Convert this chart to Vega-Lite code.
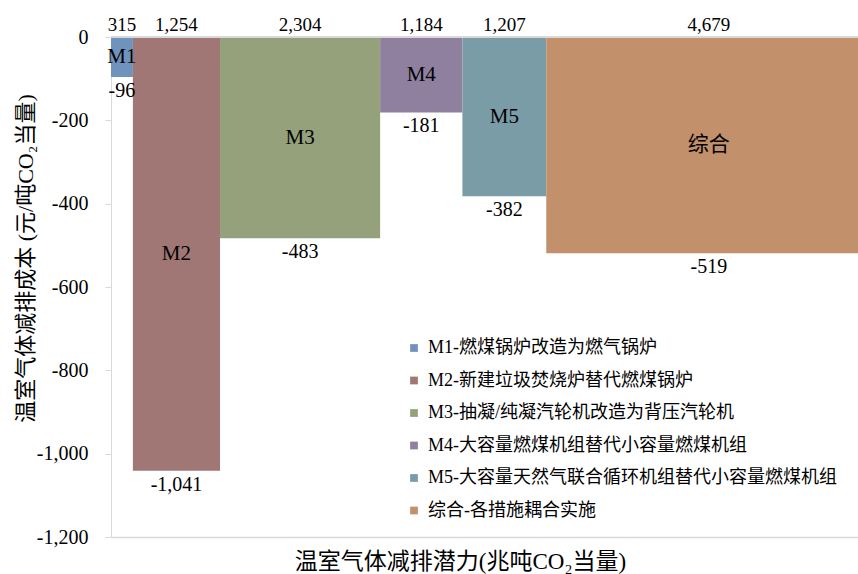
{
  "$schema": "https://vega.github.io/schema/vega-lite/v6.json",
  "width": 747,
  "height": 500,
  "autosize": {"type": "none"},
  "padding": {"left": 111, "top": 37, "right": 0, "bottom": 37},
  "background": "white",
  "config": {
    "view": {"stroke": null},
    "font": "Liberation Serif, Noto Sans CJK SC",
    "text": {"font": "Liberation Serif, Noto Sans CJK SC"},
    "locale": {"number": {"decimal": ".", "thousands": ",", "grouping": [3], "currency": ["", ""], "minus": "-"}}
  },
  "data": {
    "values": [
      {"order": 1, "short": "M1", "legend": "M1-燃煤锅炉改造为燃气锅炉", "potential": 315, "cost": -96},
      {"order": 2, "short": "M2", "legend": "M2-新建垃圾焚烧炉替代燃煤锅炉", "potential": 1254, "cost": -1041},
      {"order": 3, "short": "M3", "legend": "M3-抽凝/纯凝汽轮机改造为背压汽轮机", "potential": 2304, "cost": -483},
      {"order": 4, "short": "M4", "legend": "M4-大容量燃煤机组替代小容量燃煤机组", "potential": 1184, "cost": -181},
      {"order": 5, "short": "M5", "legend": "M5-大容量天然气联合循环机组替代小容量燃煤机组", "potential": 1207, "cost": -382},
      {"order": 6, "short": "综合", "legend": "综合-各措施耦合实施", "potential": 4679, "cost": -519}
    ]
  },
  "transform": [
    {"window": [{"op": "sum", "field": "potential", "as": "x1"}], "sort": [{"field": "order"}], "frame": [null, 0]},
    {"calculate": "datum.x1 - datum.potential", "as": "x0"},
    {"calculate": "(datum.x0 + datum.x1) / 2", "as": "xm"},
    {"calculate": "datum.cost / 2", "as": "ym"},
    {"calculate": "0", "as": "zero"},
    {"calculate": "replace(format(datum.potential, ',d'), '\u2212', '-')", "as": "ptxt"},
    {"calculate": "replace(format(datum.cost, ',d'), '\u2212', '-')", "as": "ctxt"}
  ],
  "layer": [
    {
      "mark": {"type": "rect", "clip": true},
      "encoding": {
        "x": {"field": "x0", "type": "quantitative",
              "scale": {"domain": [0, 10750], "nice": false, "zero": true},
              "axis": {"title": "温室气体减排潜力(兆吨CO₂当量)", "labels": false, "ticks": false, "grid": false,
                       "domainColor": "#d9d9d9", "domainWidth": 1.5,
                       "titleFont": "Liberation Serif, Noto Sans CJK SC", "titleFontSize": 23, "titleFontWeight": "normal",
                       "titleColor": "#000", "titleX": 349, "titleY": 24, "titleBaseline": "middle", "titleAlign": "center"}},
        "x2": {"field": "x1"},
        "y": {"field": "cost", "type": "quantitative",
              "scale": {"domain": [-1200, 0], "nice": false},
              "axis": {"title": "温室气体减排成本 (元/吨CO₂当量)", "values": [0, -200, -400, -600, -800, -1000, -1200],
                       "labelExpr": "replace(format(datum.value, ',d'), '\u2212', '-')",
                       "grid": false, "domainColor": "#d9d9d9", "tickColor": "#d9d9d9", "tickSize": 6,
                       "labelFont": "Liberation Serif", "labelFontSize": 20, "labelColor": "#000", "labelPadding": 17,
                       "titleFont": "Liberation Serif, Noto Sans CJK SC", "titleFontSize": 22, "titleFontWeight": "normal",
                       "titleColor": "#000", "titleX": -86, "titleY": 221, "titleBaseline": "middle", "titleAlign": "center", "titleAngle": -90}},
        "y2": {"field": "zero"},
        "color": {"field": "legend", "type": "nominal",
                  "scale": {"domain": ["M1-燃煤锅炉改造为燃气锅炉", "M2-新建垃圾焚烧炉替代燃煤锅炉", "M3-抽凝/纯凝汽轮机改造为背压汽轮机", "M4-大容量燃煤机组替代小容量燃煤机组", "M5-大容量天然气联合循环机组替代小容量燃煤机组", "综合-各措施耦合实施"],
                            "range": ["#7093BD", "#A07775", "#94A17B", "#8F80A0", "#7A9CA6", "#C2906A"]},
                  "legend": {"title": null, "orient": "none", "legendX": 294, "legendY": 302,
                             "symbolType": "square", "symbolSize": 60, "symbolStrokeWidth": 0,
                             "labelFont": "Liberation Serif, Noto Sans CJK SC", "labelFontSize": 18, "labelColor": "#000",
                             "labelOffset": 5, "rowPadding": 14.5, "labelLimit": 500, "padding": 0}}
      }
    },
    {
      "mark": {"type": "rule", "color": "#d9d9d9", "strokeWidth": 1.5},
      "encoding": {"y": {"field": "zero", "type": "quantitative"}}
    },
    {
      "mark": {"type": "text", "baseline": "middle", "dy": -12, "fontSize": 19, "font": "Liberation Serif", "color": "#000"},
      "encoding": {
        "x": {"field": "xm", "type": "quantitative"},
        "y": {"field": "zero", "type": "quantitative"},
        "text": {"field": "ptxt"}
      }
    },
    {
      "mark": {"type": "text", "baseline": "top", "dy": 4, "fontSize": 20, "font": "Liberation Serif", "color": "#000"},
      "encoding": {
        "x": {"field": "xm", "type": "quantitative"},
        "y": {"field": "cost", "type": "quantitative"},
        "text": {"field": "ctxt"}
      }
    },
    {
      "mark": {"type": "text", "baseline": "middle", "fontSize": 21, "font": "Liberation Serif, Noto Sans CJK SC", "color": "#000"},
      "encoding": {
        "x": {"field": "xm", "type": "quantitative"},
        "y": {"field": "ym", "type": "quantitative"},
        "text": {"field": "short"}
      }
    }
  ]
}
